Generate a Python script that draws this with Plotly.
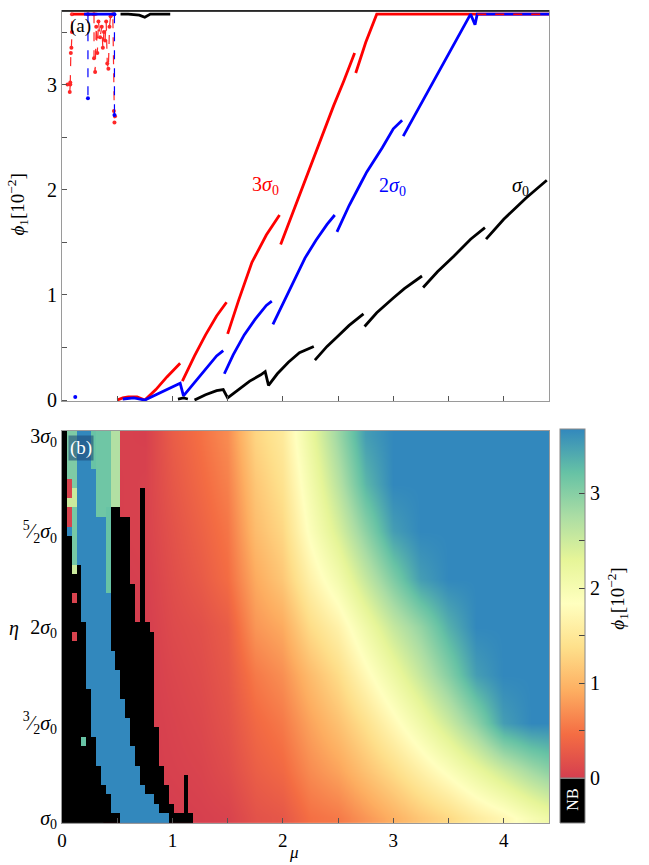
import numpy as np
import plotly.graph_objects as go

# ---------------- Panel (a): phi_1 vs mu for three eta values ----------------
# sigma_0 (black); None = jump / gap
black_mu = [0.53, 0.60, 0.70, 0.75, 0.80, 0.90, 0.98, None,
            1.05, 1.10, 1.14, None,
            1.20, 1.30, 1.40, 1.46, 1.50, 1.60, 1.70, 1.80, 1.84, 1.87, 1.95, 2.05, 2.15, 2.28, None,
            2.29, 2.40, 2.50, 2.60, 2.73, None,
            2.74, 2.85, 3.00, 3.10, 3.26, None,
            3.27, 3.40, 3.55, 3.70, 3.83, None,
            3.84, 4.00, 4.10, 4.20, 4.30, 4.39]
black_phi = [3.67, 3.67, 3.66, 3.64, 3.67, 3.67, 3.67, None,
             0.01, 0.02, 0.01, None,
             0.00, 0.05, 0.09, 0.10, 0.02, 0.10, 0.18, 0.24, 0.27, 0.14, 0.25, 0.36, 0.45, 0.51, None,
             0.38, 0.51, 0.61, 0.71, 0.82, None,
             0.70, 0.83, 0.97, 1.06, 1.18, None,
             1.07, 1.22, 1.37, 1.53, 1.64, None,
             1.53, 1.72, 1.82, 1.92, 2.01, 2.09]

# 2 sigma_0 (blue)
blue_mu = [0.20, 0.48, None,
           0.55, 0.65, 0.75, 0.85, 0.95, 1.02, 1.07, 1.10, 1.20, 1.30, 1.40, 1.46, None,
           1.47, 1.55, 1.65, 1.75, 1.85, 1.90, None,
           1.91, 2.00, 2.10, 2.20, 2.30, 2.40, 2.47, None,
           2.49, 2.60, 2.70, 2.76, 2.90, 3.00, 3.08, None,
           3.09, 3.20, 3.36, 3.50, 3.67, 3.70, 3.74, 3.76, 4.41]
blue_phi = [3.67, 3.67, None,
            0.01, 0.02, 0.00, 0.05, 0.10, 0.14, 0.16, 0.04, 0.17, 0.30, 0.42, 0.47, None,
            0.25, 0.43, 0.62, 0.77, 0.90, 0.94, None,
            0.72, 0.92, 1.13, 1.35, 1.52, 1.67, 1.76, None,
            1.60, 1.85, 2.05, 2.17, 2.40, 2.58, 2.66, None,
            2.51, 2.72, 3.02, 3.30, 3.62, 3.67, 3.57, 3.67, 3.67]
blue_drop_mu = [0.235, 0.235, None, 0.475, 0.475]
blue_drop_phi = [3.67, 2.87, None, 3.67, 2.71]
blue_dot_mu = [0.12]
blue_dot_phi = [0.03]

# 3 sigma_0 (red)
red_mu = [0.10, 0.32, None,
          0.50, 0.55, 0.60, 0.68, 0.75, 0.85, 0.95, 1.03, 1.07, None,
          1.09, 1.20, 1.30, 1.40, 1.49, None,
          1.50, 1.60, 1.72, 1.85, 1.97, None,
          1.98, 2.16, 2.30, 2.46, 2.55, 2.65, None,
          2.66, 2.75, 2.85, 4.41]
red_phi = [3.67, 3.67, None,
           0.00, 0.02, 0.03, 0.03, 0.00, 0.10, 0.22, 0.31, 0.35, None,
           0.18, 0.42, 0.62, 0.80, 0.93, None,
           0.63, 0.95, 1.31, 1.57, 1.76, None,
           1.48, 1.98, 2.37, 2.80, 3.03, 3.30, None,
           3.11, 3.40, 3.67, 3.67]
red_noise_mu = [0.05, 0.075, 0.07, 0.075, 0.08, 0.085, 0.09, 0.09, None,
                0.29, 0.29, 0.30, 0.31, 0.32, 0.33, 0.345, 0.36, 0.37, 0.38, 0.39, 0.40,
                0.41, 0.42, 0.43, 0.44, 0.46, 0.47, 0.475, 0.48]
red_noise_phi = [3.00, 3.00, 2.93, 3.02, 3.30, 3.35, 3.50, 3.67, None,
                 3.67, 3.25, 3.12, 3.55, 3.30, 3.60, 3.45, 3.55, 3.35, 3.50, 3.42, 3.60,
                 3.20, 3.15, 3.55, 3.65, 3.67, 2.75, 2.64, 2.70]
red_dash_mu = [3.76, 4.41]
red_dash_phi = [3.67, 3.67]

# ---------------- Panel (b): phi_1 map over (mu, eta) ----------------
SAT = 3.67   # saturated value

# smooth part, read on a coarse grid
grad_mu = [0.5, 0.75, 1.0, 1.25, 1.5, 1.75, 2.0, 2.25, 2.5, 2.75, 3.0, 3.25, 3.5, 3.75, 4.0, 4.25, 4.5]
grad_eta = [1.0, 1.25, 1.5, 1.75, 2.0, 2.25, 2.5, 2.75, 3.0]
grad_phi = [
    [0.00, 0.00, 0.00, 0.02, 0.05, 0.20, 0.25, 0.48, 0.55, 0.75, 0.95, 1.15, 1.32, 1.55, 1.72, 1.98, 2.20],
    [0.00, 0.00, 0.03, 0.06, 0.14, 0.32, 0.42, 0.68, 0.85, 1.10, 1.35, 1.62, 1.90, 2.20, 2.50, 2.80, 3.05],
    [0.00, 0.00, 0.05, 0.10, 0.20, 0.42, 0.55, 0.85, 1.10, 1.40, 1.75, 2.10, 2.50, 2.95, 3.50, 3.67, 3.67],
    [0.00, 0.00, 0.08, 0.14, 0.25, 0.55, 0.70, 1.05, 1.35, 1.75, 2.15, 2.55, 3.00, 3.50, 3.67, 3.67, 3.67],
    [0.00, 0.00, 0.12, 0.18, 0.30, 0.75, 0.90, 1.35, 1.65, 2.10, 2.55, 2.90, 3.35, 3.67, 3.67, 3.67, 3.67],
    [0.00, 0.02, 0.16, 0.28, 0.45, 0.90, 1.15, 1.65, 2.05, 2.55, 3.05, 3.50, 3.67, 3.67, 3.67, 3.67, 3.67],
    [0.02, 0.04, 0.20, 0.35, 0.52, 1.05, 1.30, 1.90, 2.40, 2.95, 3.50, 3.67, 3.67, 3.67, 3.67, 3.67, 3.67],
    [0.02, 0.04, 0.25, 0.42, 0.60, 1.15, 1.42, 2.05, 2.65, 3.30, 3.67, 3.67, 3.67, 3.67, 3.67, 3.67, 3.67],
    [0.03, 0.02, 0.30, 0.48, 0.68, 1.28, 1.52, 2.20, 2.85, 3.50, 3.67, 3.67, 3.67, 3.67, 3.67, 3.67, 3.67],
]

# sharp low-mu region: per eta row, mu where 1st NB ends, blue ends, 2nd NB ends
eta_rows = [1.00, 1.05, 1.10, 1.15, 1.20, 1.25, 1.30, 1.35, 1.40, 1.45, 1.50, 1.55, 1.60, 1.65,
            1.70, 1.75, 1.80, 1.85, 1.90, 1.95, 2.00, 2.05, 2.10, 2.15, 2.20, 2.25, 2.30, 2.35,
            2.40, 2.45, 2.50, 2.55, 2.60, 2.65, 2.70, 2.75, 2.80, 2.85, 2.90, 2.95, 3.00]
nb1_end = [0.52, 0.46, 0.44, 0.41, 0.37, 0.35, 0.33, 0.31, 0.29, 0.28, 0.28, 0.28, 0.28, 0.26,
           0.24, 0.24, 0.24, 0.24, 0.24, 0.24, 0.22, 0.19, 0.19, 0.19, 0.19, 0.19, 0.17, 0.10,
           0.10, 0.10, 0.06, 0.06, 0.055, 0.055, 0.055, 0.055, 0.055, 0.055, 0.055, 0.055, 0.055]
blue_end = [0.98, 0.86, 0.815, 0.77, 0.72, 0.72, 0.68, 0.68, 0.63, 0.63, 0.63, 0.59, 0.59, 0.54,
            0.54, 0.54, 0.50, 0.47, 0.46, 0.46, 0.46, 0.46, 0.46, 0.46, 0.46, 0.46, 0.46, 0.46,
            0.46, 0.46, 0.46, 0.46, 0.46, 0.51, 0.51, 0.51, 0.51, 0.51, 0.51, 0.51, 0.51]
nb2_end = [1.20, 1.03, 0.98, 0.96, 0.94, 0.94, 0.90, 0.90, 0.90, 0.87, 0.85, 0.85, 0.85, 0.83,
           0.815, 0.815, 0.815, 0.815, 0.815, 0.815, 0.80, 0.68, 0.68, 0.68, 0.64, 0.63, 0.63, 0.63,
           0.63, 0.62, 0.60, 0.60, 0.54, 0.54, 0.54, 0.54, 0.54, 0.54, 0.54, 0.54, 0.54]
# individual patches: (mu_min, mu_max, eta_min, eta_max, phi); phi None = NB
patches = [
    (0.055, 0.15, 2.62, 3.03, 3.05),
    (0.055, 0.15, 2.62, 2.70, 2.50),
    (0.055, 0.10, 2.70, 2.75, 0.05),
    (0.055, 0.10, 2.55, 2.62, 0.05),
    (0.10, 0.15, 2.35, 2.62, 3.10),
    (0.10, 0.15, 2.28, 2.33, 2.50),
    (0.28, 0.32, 2.85, 3.03, 3.20),
    (0.33, 0.46, 2.60, 3.03, 3.15),
    (0.41, 0.46, 2.20, 2.60, 3.20),
    (0.46, 0.51, 2.62, 3.03, 2.70),
    (0.10, 0.15, 2.11, 2.19, 0.05),
    (0.10, 0.15, 1.91, 1.96, 0.05),
    (0.19, 0.24, 1.38, 1.43, 3.20),
    (0.42, 0.47, 1.96, 1.99, 2.50),
    (0.71, 0.75, 2.00, 2.74, None),
    (1.10, 1.145, 1.00, 1.24, None),
]

# ---------------- build figure ----------------
FONT = "Liberation Serif"
cell_mu = np.arange(0.022, 1.27, 0.044)
Zval = np.full((len(eta_rows), len(cell_mu)), np.nan)   # coloured cells
Znb = np.full((len(eta_rows), len(cell_mu)), np.nan)    # NB cells (black)
for i, e in enumerate(eta_rows):
    for j, m in enumerate(cell_mu):
        if m < nb1_end[i]:
            Znb[i, j] = 1
        elif m < blue_end[i]:
            Zval[i, j] = SAT
        elif m < nb2_end[i]:
            Znb[i, j] = 1
for (m0, m1, e0, e1, v) in patches:
    for i, e in enumerate(eta_rows):
        if e0 - 1e-9 <= e <= e1 + 1e-9:
            for j, m in enumerate(cell_mu):
                if m0 <= m <= m1:
                    if v is None:
                        Znb[i, j] = 1
                        Zval[i, j] = np.nan
                    else:
                        Zval[i, j] = v
                        Znb[i, j] = np.nan

spectral = ['#d53e4f', '#f46d43', '#fdae61', '#fee08b', '#ffffbf',
            '#e6f598', '#abdda4', '#66c2a5', '#3288bd']
cscale = [[k / (len(spectral) - 1), c] for k, c in enumerate(spectral)]

fig = go.Figure()
fig.add_trace(go.Heatmap(x=grad_mu, y=grad_eta, z=grad_phi, coloraxis='coloraxis',
                         zsmooth='best', xaxis='x', yaxis='y', hoverinfo='skip'))
fig.add_trace(go.Heatmap(x=cell_mu, y=eta_rows, z=Zval, coloraxis='coloraxis',
                         xaxis='x', yaxis='y', hoverinfo='skip'))
fig.add_trace(go.Heatmap(x=cell_mu, y=eta_rows, z=Znb, colorscale=[[0, 'black'], [1, 'black']],
                         showscale=False, xaxis='x', yaxis='y', hoverinfo='skip'))

LW = 2.8
def line(x, y, color, width=LW, dash='solid', mode='lines', msize=3):
    fig.add_trace(go.Scatter(x=x, y=y, mode=mode, xaxis='x2', yaxis='y2',
                             line=dict(color=color, width=width, dash=dash),
                             marker=dict(color=color, size=msize),
                             connectgaps=False, showlegend=False, hoverinfo='skip'))

line(red_noise_mu, red_noise_phi, 'rgb(255,40,40)', width=1.2, dash='dash', mode='lines+markers', msize=4)
line(blue_drop_mu, blue_drop_phi, 'blue', width=1.2, dash='dash', mode='lines+markers', msize=4)
line(red_mu, red_phi, 'red')
line(blue_mu, blue_phi, 'blue')
line(red_dash_mu, red_dash_phi, 'red', width=1.5, dash='dash')
line(black_mu, black_phi, 'black')
line(blue_dot_mu, blue_dot_phi, 'blue', mode='markers', msize=4)

W, H = 649, 865
ml, mr, mt, mb = 62, 100, 5, 42
pw, ph = W - ml - mr, H - mt - mb
def px(x): return (x - ml) / pw
def py(y): return (H - mb - y) / ph

axcommon = dict(showline=True, linecolor='#9a9a9a', linewidth=1, mirror=True,
                showgrid=False, zeroline=False, ticks='inside', ticklen=5,
                tickcolor='#555', tickfont=dict(family=FONT, size=20, color='black'))
top_dom = [py(398), 1.0]
bot_dom = [0.0, py(428)]

fig.update_layout(
    width=W, height=H, margin=dict(l=ml, r=mr, t=mt, b=mb),
    paper_bgcolor='white', plot_bgcolor='white', showlegend=False,
    xaxis=dict(domain=[0, 1], range=[0, 4.41], anchor='y',
               tickvals=[0, 0.5, 1, 1.5, 2, 2.5, 3, 3.5, 4],
               ticktext=['0', '', '1', '', '2', '', '3', '', '4'],
               **{**axcommon, 'tickfont': dict(family=FONT, size=19, color='black')}),
    yaxis=dict(domain=bot_dom, range=[0.975, 3.025], anchor='x',
               tickvals=[1, 1.5, 2, 2.5, 3],
               ticktext=['<i>σ</i><sub>0</sub>', '<sup>3</sup>⁄<sub>2</sub><i>σ</i><sub>0</sub>',
                         '2<i>σ</i><sub>0</sub>', '<sup>5</sup>⁄<sub>2</sub><i>σ</i><sub>0</sub>',
                         '3<i>σ</i><sub>0</sub>'],
               **{**axcommon, 'ticks': ''}),
    xaxis2=dict(domain=[0, 1], range=[0, 4.41], anchor='y2', matches='x',
                tickvals=[0, 0.5, 1, 1.5, 2, 2.5, 3, 3.5, 4], showticklabels=False, **axcommon),
    yaxis2=dict(domain=top_dom, range=[-0.01, 3.70], anchor='x2',
                tickvals=[0, 0.5, 1, 1.5, 2, 2.5, 3, 3.5],
                ticktext=['0', '', '1', '', '2', '', '3', ''], **axcommon),
    coloraxis=dict(cmin=0, cmax=SAT, colorscale=cscale,
                   colorbar=dict(x=px(560), xanchor='left', xpad=0,
                                 y=py(778), yanchor='bottom', ypad=0,
                                 lenmode='pixels', len=349, thicknessmode='pixels', thickness=25,
                                 outlinecolor='#888', outlinewidth=1,
                                 tickvals=[0, 0.5, 1, 1.5, 2, 2.5, 3],
                                 ticktext=['0', '', '1', '', '2', '', '3'],
                                 ticks='inside', ticklen=6, tickcolor='#444',
                                 tickfont=dict(family=FONT, size=20, color='black'))),
)

ann = []
def A(x, y, text, size=19, color='black', angle=0, **kw):
    ann.append(dict(x=px(x), y=py(y), xref='paper', yref='paper', text=text, showarrow=False,
                    xanchor='center', yanchor='middle',
                    textangle=angle, font=dict(family=FONT, size=size, color=color), **kw))

A(80, 20, '(a)', size=19)
A(81, 445, '(b)', size=19, color='white', bgcolor='rgba(30,75,120,0.6)', borderpad=1)
A(265, 181, '3<i>σ</i><sub>0</sub>', size=20, color='red')
A(392, 182, '2<i>σ</i><sub>0</sub>', size=20, color='blue')
A(520, 182, '<i>σ</i><sub>0</sub>', size=20, color='black')
A(18, 200, '<i>ϕ</i><sub>1</sub>[10<sup>−2</sup>]', size=19, angle=-90)
A(14, 627, '<i>η</i>', size=20)
A(294, 853, '<i>μ</i>', size=17)
A(618, 597, '<i>ϕ</i><sub>1</sub>[10<sup>−2</sup>]', size=19, angle=-90)
A(572.5, 800, 'NB', size=16, color='white', angle=-90)

shapes = [dict(type='line', xref='paper', yref='paper', x0=0, x1=1, y0=1, y1=1,
               line=dict(color='black', width=1.5)),
          dict(type='rect', xref='paper', yref='paper', x0=px(560), x1=px(585),
               y0=py(823), y1=py(778), fillcolor='black', line=dict(color='#888', width=1))]
fig.update_layout(annotations=ann, shapes=shapes)

fig.write_html("out.html")
